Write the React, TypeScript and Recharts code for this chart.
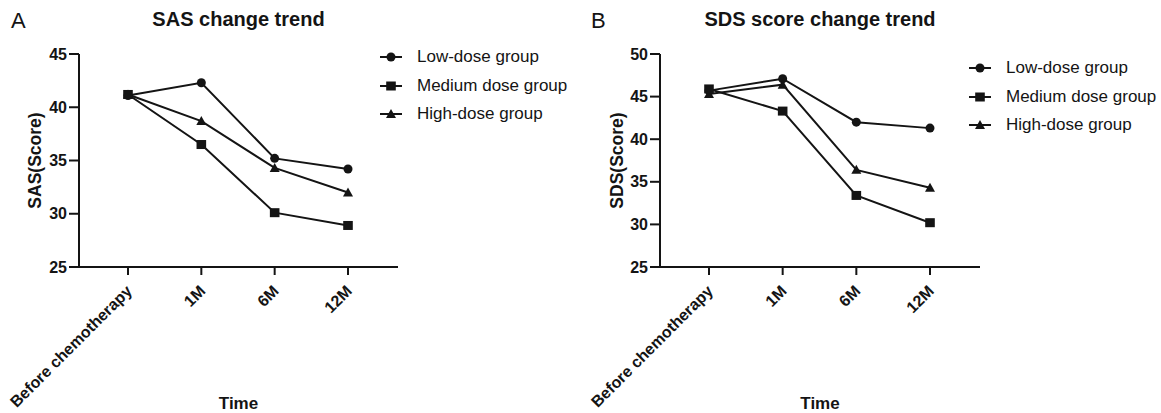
import React from 'react';
import { LineChart, Line, XAxis, YAxis } from 'recharts';

// time points on the x axis
const timePoints = ['Before chemotherapy', '1M', '6M', '12M'];

// SAS scores (panel A)
const sasLow = [41.1, 42.3, 35.2, 34.2];
const sasMedium = [41.2, 36.5, 30.1, 28.9];
const sasHigh = [41.2, 38.7, 34.3, 32.0];
const sasTicks = [25, 30, 35, 40, 45];

// SDS scores (panel B)
const sdsLow = [45.7, 47.1, 42.0, 41.3];
const sdsMedium = [45.9, 43.3, 33.4, 30.2];
const sdsHigh = [45.3, 46.4, 36.4, 34.3];
const sdsTicks = [25, 30, 35, 40, 45, 50];

const groupNames = ['Low-dose group', 'Medium dose group', 'High-dose group'];

const INK = '#141414';
const FONT = 'Arial, "Liberation Sans", Helvetica, sans-serif';

type Marker = 'circle' | 'square' | 'triangle';

const drawMarker = (kind: Marker, cx: number, cy: number, key?: string) => {
  if (kind === 'circle') return <circle key={key} cx={cx} cy={cy} r={4.5} fill={INK} />;
  if (kind === 'square') return <rect key={key} x={cx - 4.8} y={cy - 4.5} width={9.6} height={9} fill={INK} />;
  return <polygon key={key} points={`${cx},${cy - 5} ${cx + 5},${cy + 4} ${cx - 5},${cy + 4}`} fill={INK} />;
};

const dotFor = (kind: Marker) => (props: any) =>
  drawMarker(kind, props.cx, props.cy, `${kind}-${props.index}`);

const XTick = (props: any) => {
  const { x, y, payload } = props;
  return (
    <g transform={`translate(${x + 5},${y + 15})`}>
      <text transform="rotate(-45)" textAnchor="end" fontSize={16} fontWeight="bold" fill={INK} fontFamily={FONT}>
        {payload.value}
      </text>
    </g>
  );
};

const XTitle = (props: any) => {
  const { viewBox } = props;
  return (
    <text x={viewBox.x + viewBox.width / 2} y={409} textAnchor="middle" fontSize={17} fontWeight="bold" fill={INK} fontFamily={FONT}>
      Time
    </text>
  );
};

const YTitle = (props: any) => {
  const { viewBox, text, baseX } = props;
  const cy = viewBox.y + viewBox.height / 2;
  return (
    <text transform={`translate(${baseX},${cy}) rotate(-90)`} textAnchor="middle" fontSize={17.5} fontWeight="bold" fill={INK} fontFamily={FONT}>
      {text}
    </text>
  );
};

const markers: Marker[] = ['circle', 'square', 'triangle'];

interface PanelProps {
  left: number;
  letter: string;
  title: string;
  yLabel: string;
  yLabelX: number;
  domain: [number, number];
  ticks: number[];
  low: number[];
  medium: number[];
  high: number[];
  axisX: number;
  plotRight: number;
  legendX: number;
  legendY: number;
}

const Panel: React.FC<PanelProps> = (p) => {
  const data = timePoints.map((t, i) => ({ time: t, low: p.low[i], medium: p.medium[i], high: p.high[i] }));
  return (
    <div style={{ position: 'absolute', left: p.left, top: 0, width: 580, height: 413 }}>
      <div style={{ position: 'absolute', left: 11, top: 10, fontSize: 22, lineHeight: '22px', color: INK }}>{p.letter}</div>
      <div
        style={{
          position: 'absolute',
          left: p.axisX,
          width: p.plotRight - p.axisX,
          top: 9,
          textAlign: 'center',
          fontSize: 20,
          lineHeight: '20px',
          fontWeight: 'bold',
          color: INK,
          whiteSpace: 'nowrap',
        }}
      >
        {p.title}
      </div>
      <LineChart width={580} height={413} data={data} margin={{ top: 54, right: 580 - p.plotRight, bottom: 0, left: 0 }}>
        <XAxis
          dataKey="time"
          padding={{ left: 49, right: 50 }}
          height={146}
          interval={0}
          tickSize={8}
          axisLine={{ stroke: INK, strokeWidth: 2 }}
          tickLine={{ stroke: INK, strokeWidth: 2 }}
          tick={<XTick />}
          label={<XTitle />}
        />
        <YAxis
          type="number"
          domain={p.domain}
          ticks={p.ticks}
          width={p.axisX}
          tickSize={10}
          tickMargin={2}
          interval={0}
          axisLine={{ stroke: INK, strokeWidth: 2 }}
          tickLine={{ stroke: INK, strokeWidth: 2 }}
          tick={{ fontSize: 16, fontWeight: 'bold', fill: INK, fontFamily: FONT }}
          label={<YTitle text={p.yLabel} baseX={p.yLabelX} />}
        />
        <Line dataKey="low" stroke={INK} strokeWidth={2} dot={dotFor('circle')} isAnimationActive={false} />
        <Line dataKey="high" stroke={INK} strokeWidth={2} dot={dotFor('triangle')} isAnimationActive={false} />
        <Line dataKey="medium" stroke={INK} strokeWidth={2} dot={dotFor('square')} isAnimationActive={false} />
      </LineChart>
      <div style={{ position: 'absolute', left: p.legendX, top: p.legendY }}>
        {groupNames.map((name, i) => (
          <div key={name} style={{ display: 'flex', alignItems: 'center', height: 28.5, fontSize: 17, color: INK, whiteSpace: 'nowrap' }}>
            <svg width={22} height={12} style={{ marginRight: 15 }}>
              <line x1={0} y1={6} x2={22} y2={6} stroke={INK} strokeWidth={2} />
              {drawMarker(markers[i], 11, 6)}
            </svg>
            {name}
          </div>
        ))}
      </div>
    </div>
  );
};

const App: React.FC = () => (
  <div
    style={{
      position: 'absolute',
      left: 0,
      top: 0,
      width: 1161,
      height: 413,
      background: '#fff',
      fontFamily: FONT,
      overflow: 'hidden',
    }}
  >
    <Panel
      left={0}
      letter="A"
      title="SAS change trend"
      yLabel="SAS(Score)"
      yLabelX={41}
      domain={[25, 45]}
      ticks={sasTicks}
      low={sasLow}
      medium={sasMedium}
      high={sasHigh}
      axisX={79}
      plotRight={398}
      legendX={380}
      legendY={43}
    />
    <Panel
      left={580}
      letter="B"
      title="SDS score change trend"
      yLabel="SDS(Score)"
      yLabelX={43}
      domain={[25, 50]}
      ticks={sdsTicks}
      low={sdsLow}
      medium={sdsMedium}
      high={sdsHigh}
      axisX={80}
      plotRight={400}
      legendX={389}
      legendY={54}
    />
  </div>
);

export default App;
